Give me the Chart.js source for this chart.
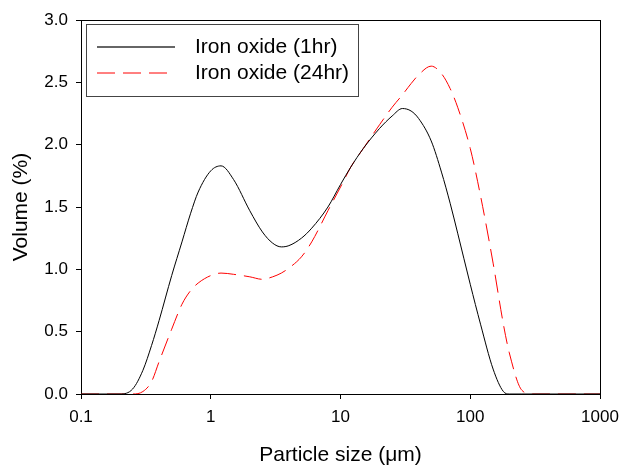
<!DOCTYPE html>
<html>
<head>
<meta charset="utf-8">
<script src="https://cdn.jsdelivr.net/npm/chart.js@4"></script>
<style>
  html, body { margin: 0; padding: 0; background: #fff; }
  canvas { display: block; }
</style>
</head>
<body>
<canvas id="psdChart" width="620" height="468"></canvas>
<script>
// particle size classes (um) and volume (%)
const sizes = [0.1, 0.2, 0.25, 0.3, 0.35, 0.4, 0.5, 0.6, 0.7, 0.8, 1, 1.2, 1.5, 2, 2.5, 3, 3.5, 4, 5, 6, 8,
  10, 12, 15, 20, 25, 30, 35, 40, 50, 60, 70, 80, 100, 120, 150, 180, 200, 250, 300, 1000];
const vol1hr = [0, 0, 0.04, 0.19, 0.39, 0.59, 0.95, 1.22, 1.45, 1.62, 1.79, 1.83, 1.72, 1.47, 1.30, 1.21, 1.18, 1.19, 1.25, 1.33, 1.50,
  1.68, 1.82, 1.97, 2.13, 2.23, 2.29, 2.27, 2.21, 2.03, 1.78, 1.53, 1.29, 0.88, 0.56, 0.20, 0.02, 0, 0, 0, 0];
const vol24hr = [0, 0, 0, 0.02, 0.1, 0.26, 0.52, 0.72, 0.83, 0.89, 0.95, 0.97, 0.96, 0.94, 0.92, 0.94, 0.97, 1.01, 1.10, 1.22, 1.47,
  1.66, 1.82, 1.97, 2.16, 2.30, 2.40, 2.49, 2.56, 2.63, 2.57, 2.45, 2.30, 1.97, 1.59, 1.05, 0.56, 0.33, 0.03, 0, 0];
const seriesNames = ["Iron oxide (1hr)", "Iron oxide (24hr)"];
const xTicks = [0.1, 1, 10, 100, 1000];
const yTicks = [0, 0.5, 1, 1.5, 2, 2.5, 3];

const FONT = "'Liberation Sans', Arial, sans-serif";

function toPoints(vals) {
  return sizes.map((s, i) => ({ x: s, y: vals[i] }));
}

// box round the plot + legend inside it
const framePlugin = {
  id: "frame",
  beforeDatasetsDraw(chart) {
    const { ctx, chartArea: a } = chart;
    ctx.save();
    ctx.strokeStyle = "#000";
    ctx.lineWidth = 1;
    ctx.strokeRect(a.left + 0.5, a.top + 0.5, a.right - a.left, a.bottom - a.top);
    ctx.restore();
  },
  afterDraw(chart) {
    const { ctx, chartArea: a } = chart;
    const x0 = a.left + 5, y0 = a.top + 4;
    ctx.save();
    ctx.strokeStyle = "#444";
    ctx.lineWidth = 1;
    ctx.strokeRect(x0 + 0.5, y0 + 0.5, 272, 72);
    chart.data.datasets.forEach((ds, i) => {
      const y = y0 + 23 + i * 26;
      ctx.beginPath();
      ctx.strokeStyle = i === 0 ? "#333" : ds.borderColor;
      ctx.lineWidth = i === 0 ? 1.5 : 1;
      ctx.setLineDash(ds.borderDash || []);
      ctx.moveTo(x0 + 11, y);
      ctx.lineTo(x0 + 89, y);
      ctx.stroke();
      ctx.setLineDash([]);
      ctx.fillStyle = "#000";
      ctx.font = "21px " + FONT;
      ctx.textBaseline = "middle";
      ctx.fillText(ds.label, x0 + 109, y);
    });
    ctx.restore();
  }
};

new Chart(document.getElementById("psdChart"), {
  type: "line",
  data: {
    datasets: [
      {
        label: seriesNames[0],
        data: toPoints(vol1hr),
        borderColor: "#000",
        borderWidth: 1,
        pointRadius: 0,
        cubicInterpolationMode: "monotone",
        fill: false
      },
      {
        label: seriesNames[1],
        data: toPoints(vol24hr),
        borderColor: "#ff0000",
        borderWidth: 1,
        borderDash: [18, 8],
        pointRadius: 0,
        cubicInterpolationMode: "monotone",
        fill: false
      }
    ]
  },
  options: {
    responsive: false,
    animation: false,
    devicePixelRatio: 1,
    layout: { padding: { left: 0, top: 20, right: 20, bottom: 0 } },
    plugins: {
      legend: { display: false },
      tooltip: { enabled: false }
    },
    scales: {
      x: {
        type: "logarithmic",
        min: 0.1,
        max: 1000,
        afterBuildTicks: (scale) => { scale.ticks = xTicks.map(v => ({ value: v })); },
        afterFit: (scale) => {
          scale.height = 74;
          // let "1000" run to the canvas edge like the original
          scale.paddingLeft = 0;
          scale.paddingRight = 0;
        },
        grid: { display: true, drawOnChartArea: false, drawTicks: true, tickLength: 5, color: "#000" },
        border: { display: true, color: "#000" },
        ticks: {
          color: "#000",
          font: { family: FONT, size: 17 },
          padding: 8,
          maxRotation: 0,
          callback: (v) => String(v)
        },
        title: {
          display: true,
          text: "Particle size (μm)",
          color: "#000",
          font: { family: FONT, size: 21 },
          padding: { top: 0, bottom: 0 }
        }
      },
      y: {
        min: 0,
        max: 3,
        afterBuildTicks: (scale) => { scale.ticks = yTicks.map(v => ({ value: v })); },
        afterFit: (scale) => { scale.width = 81; },
        grid: { display: true, drawOnChartArea: false, drawTicks: true, tickLength: 5, color: "#000" },
        border: { display: true, color: "#000" },
        ticks: {
          color: "#000",
          font: { family: FONT, size: 17 },
          padding: 8,
          callback: (v) => Number(v).toFixed(1)
        },
        title: {
          display: true,
          text: "Volume (%)",
          color: "#000",
          font: { family: FONT, size: 21 },
          padding: { top: 9, bottom: 0 }
        }
      }
    }
  },
  plugins: [framePlugin]
});
</script>
</body>
</html>
